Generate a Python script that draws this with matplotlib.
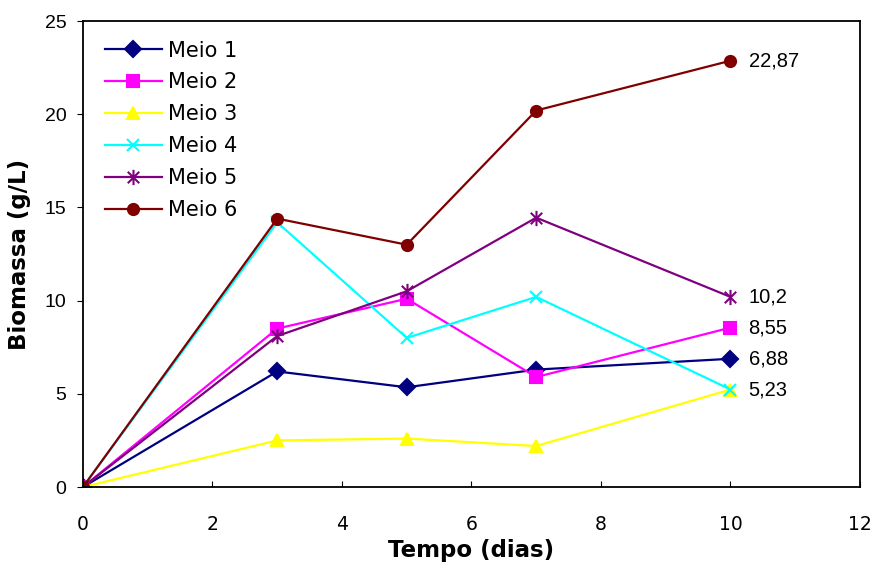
import matplotlib
matplotlib.use('Agg')
import matplotlib.pyplot as plt
from matplotlib.path import Path

# biomass over time for each culture medium
dias = [0, 3, 5, 7, 10]
meio1 = [0, 6.2, 5.35, 6.3, 6.88]
meio2 = [0, 8.5, 10.1, 5.9, 8.55]
meio3 = [0, 2.5, 2.6, 2.2, 5.23]
meio4 = [0, 14.2, 8.0, 10.2, 5.23]
meio5 = [0, 8.1, 10.5, 14.45, 10.2]
meio6 = [0, 14.4, 13.0, 20.2, 22.87]

# asterisk = x with a vertical bar
asterisco = Path([(0, -1), (0, 1), (-0.75, -0.75), (0.75, 0.75), (-0.75, 0.75), (0.75, -0.75)],
                 [Path.MOVETO, Path.LINETO] * 3)

series = [
    ('Meio 1', meio1, '#000080', 'D', 8),
    ('Meio 2', meio2, '#FF00FF', 's', 8),
    ('Meio 3', meio3, '#FFFF00', '^', 9),
    ('Meio 4', meio4, '#00FFFF', 'x', 9),
    ('Meio 5', meio5, '#800080', asterisco, 11),
    ('Meio 6', meio6, '#800000', 'o', 8),
]

fig = plt.figure(figsize=(8.78, 5.70), dpi=100)
ax = fig.add_axes([0.0945, 0.1456, 0.885, 0.8175])

for nome, vals, cor, mk, ms in series:
    ax.plot(dias, vals, color=cor, marker=mk, markersize=ms, linewidth=1.6,
            markeredgewidth=1.5, label=nome)

# final values written next to the last points
for vals in [meio6, meio5, meio2, meio1, meio4]:
    txt = ('%g' % vals[-1]).replace('.', ',')
    ax.annotate(txt, (dias[-1], vals[-1]), xytext=(13, 0), textcoords='offset points',
                va='center', ha='left', fontsize=14.5, family='Liberation Sans')

ax.set_xlim(0, 12)
ax.set_ylim(0, 25)
ax.set_xticks(range(0, 13, 2))
ax.set_yticks(range(0, 26, 5))

for s in ax.spines.values():
    s.set_linewidth(1.3)
    s.set_color('black')

ax.tick_params(axis='x', direction='in', length=4, labelsize=13.5, pad=20)
ax.tick_params(axis='y', direction='out', length=4, labelsize=14, pad=8)
for lb in ax.get_yticklabels():
    lb.set_family('Liberation Sans')

ax.set_xlabel('Tempo (dias)', fontsize=16.5, fontweight='bold', labelpad=4)
ax.set_ylabel('Biomassa (g/L)', fontsize=16.5, fontweight='bold', labelpad=10)

ax.legend(loc='upper left', bbox_to_anchor=(0.006, 0.996), frameon=False, fontsize=15,
          handlelength=2.7, labelspacing=0.57, handletextpad=0.3, borderaxespad=0.45)

fig.savefig('out.png', dpi=100)
